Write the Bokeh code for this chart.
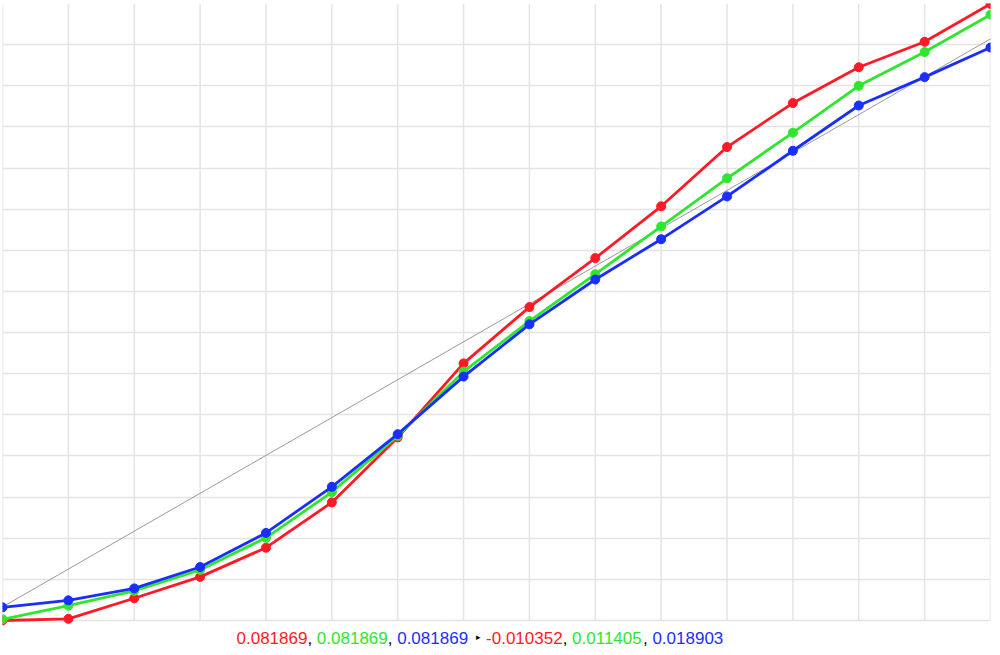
from bokeh.plotting import figure
from bokeh.models import Range1d, FixedTicker, Label
from bokeh.embed import file_html
from bokeh.resources import INLINE

# ---- data ----
steps = list(range(16))
red_vals = [0.00, 0.04, 0.54, 1.06, 1.77, 2.87, 4.45, 6.25, 7.62, 8.81, 10.07, 11.51, 12.58, 13.45, 14.07, 14.99]
green_vals = [0.03, 0.36, 0.72, 1.23, 2.01, 3.12, 4.49, 6.05, 7.28, 8.42, 9.58, 10.75, 11.86, 13.00, 13.82, 14.73]
blue_vals = [0.32, 0.49, 0.78, 1.30, 2.13, 3.25, 4.53, 5.93, 7.20, 8.29, 9.27, 10.31, 11.42, 12.52, 13.21, 13.93]
ref_x = [0, 15]
ref_y = [0.33, 14.14]
readout_before = ["0.081869", "0.081869", "0.081869"]
readout_after = ["-0.010352", "0.011405", "0.018903"]

RED = "#ff1a26"
GREEN = "#2fe62f"
BLUE = "#1a2eff"

W, H = 992, 647
LEFT, RIGHT, TOP, BOTTOM = 2, 2, 3, 0
GRID_H = 617            # pixel height of the 0..15 grid
TEXT_BAND = H - TOP - GRID_H   # pixel band under the grid for the readout

frame_w = W - LEFT - RIGHT
unit_y = 15 / GRID_H
y_min = -TEXT_BAND * unit_y

p = figure(width=W, height=H, x_range=Range1d(0, 15), y_range=Range1d(y_min, 15),
           x_axis_location=None, y_axis_location=None,
           toolbar_location=None, output_backend="svg",
           min_border_left=LEFT, min_border_right=RIGHT,
           min_border_top=TOP, min_border_bottom=BOTTOM)
p.outline_line_color = None
p.background_fill_color = "white"
p.border_fill_color = "white"

p.xgrid.visible = False
p.ygrid[0].ticker = FixedTicker(ticks=steps)
p.ygrid[0].grid_line_color = "#e4e4e4"
p.ygrid[0].grid_line_width = 1.5
p.segment(x0=steps, y0=[0] * len(steps), x1=steps, y1=[15] * len(steps),
          line_color="#e4e4e4", line_width=1.5)

p.line(ref_x, ref_y, line_color="#9a9a9a", line_width=1)

for vals, col in ((red_vals, RED), (green_vals, GREEN), (blue_vals, BLUE)):
    p.line(steps, vals, line_color=col, line_width=2.8)
    p.scatter(steps, vals, size=9, fill_color=col, line_color=col)

# ---- bottom readout text ----
def px_x(px):
    return (px - LEFT) / frame_w * 15
def px_y(py):
    return (TOP + GRID_H - py) * unit_y

FONT = "Liberation Sans"
FS = 17
widths = {c: 0.556 for c in "0123456789"}
widths.update({".": 0.278, ",": 0.278, " ": 0.278, "-": 0.333})
def tw(s):
    return sum(widths.get(c, 0.556) for c in s) * FS

base_py = 637
pieces = []
xpos = 236
cols = [RED, GREEN, BLUE]
for i, s in enumerate(readout_before):
    pieces.append((xpos, s, cols[i]))
    xpos += tw(s)
    if i < 2:
        pieces.append((xpos, ",", "black"))
        xpos += tw(", ")
arrow_px = xpos + 8
xpos = arrow_px + 10
for i, s in enumerate(readout_after):
    pieces.append((xpos, s, cols[i]))
    xpos += tw(s)
    if i < 2:
        pieces.append((xpos, ",", "black"))
        xpos += tw(", ")

for px, s, col in pieces:
    p.add_layout(Label(x=px_x(px), y=px_y(base_py), text=s, text_color=col,
                       text_font=FONT, text_font_size=f"{FS}px",
                       text_baseline="alphabetic", text_align="left"))
p.add_layout(Label(x=px_x(arrow_px), y=px_y(base_py - 1), text="▸", text_color="black",
                   text_font="DejaVu Sans", text_font_size="9px",
                   text_baseline="alphabetic", text_align="left"))

open("out.html", "w").write(file_html(p, INLINE))
